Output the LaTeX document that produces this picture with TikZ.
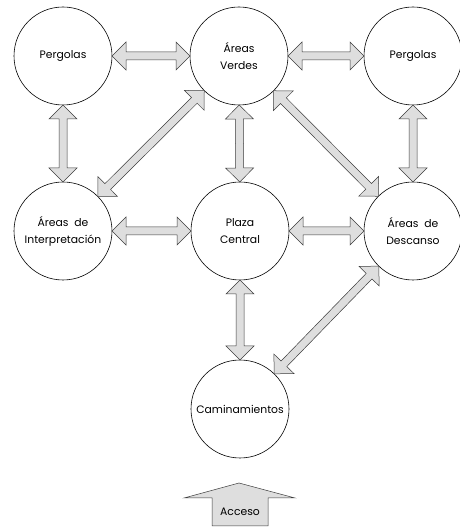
\documentclass[tikz,border=0pt]{standalone}
\usepackage{fontspec}
\setmainfont{Poppins}
\usepackage{tikz}
\usetikzlibrary{calc}
\definecolor{arrfill}{RGB}{222,222,222}
\definecolor{arrline}{RGB}{60,60,60}
\tikzset{
  zone/.style={circle, draw=black, fill=white, minimum size=98pt,
    inner sep=0pt, align=center, font=\fontsize{10.8}{17}\selectfont, line width=0.6pt},
  dblarrow/.style={draw=arrline, fill=arrfill, line width=0.5pt, line join=miter},
  accarrow/.style={draw=arrline, fill=arrfill, line width=0.5pt}
}
% hollow double arrow between two circles
\newcommand{\dblarrow}[2]{%
  \filldraw[dblarrow] let \p1=(#1.center), \p2=(#2.center),
    \n1={atan2(\y2-\y1,\x2-\x1)}, \n2={veclen(\x2-\x1,\y2-\y1)} in
    [shift={(\p1)}, rotate=\n1]
    (49,0) -- (63,14) -- (63,4) -- ({\n2-63},4) -- ({\n2-63},14) -- ({\n2-49},0)
    -- ({\n2-63},-14) -- ({\n2-63},-4) -- (63,-4) -- (63,-14) -- cycle;
}

\begin{document}
\begin{tikzpicture}[x=1pt, y=1pt]
  \useasboundingbox (0,0) rectangle (460,528);

  % Zones
  \node[zone] (perg1)    at (63,472)  {Pergolas};
  \node[zone] (verdes)   at (239,472) {Áreas\\Verdes};
  \node[zone] (perg2)    at (413,472) {Pergolas};
  \node[zone] (interp)   at (63,297)  {Áreas~ de\\Interpretación};
  \node[zone] (plaza)    at (240,297) {Plaza\\Central};
  \node[zone] (descanso) at (413,297) {Áreas~ de\\Descanso};
  \node[zone] (camin)    at (240,119) {Caminamientos};

  % Connections
  \dblarrow{perg1}{verdes}
  \dblarrow{verdes}{perg2}
  \dblarrow{perg1}{interp}
  \dblarrow{verdes}{interp}
  \dblarrow{verdes}{plaza}
  \dblarrow{verdes}{descanso}
  \dblarrow{perg2}{descanso}
  \dblarrow{interp}{plaza}
  \dblarrow{plaza}{descanso}
  \dblarrow{plaza}{camin}
  \dblarrow{descanso}{camin}

  % Access arrow
  \filldraw[accarrow] (239,45) -- (295,30) -- (268,30) -- (268,2)
    -- (212,2) -- (212,30) -- (184,30) -- cycle;
  \node[font=\fontsize{10.8}{12}\selectfont] (acceso) at (240,16) {Acceso};
\end{tikzpicture}
\end{document}
